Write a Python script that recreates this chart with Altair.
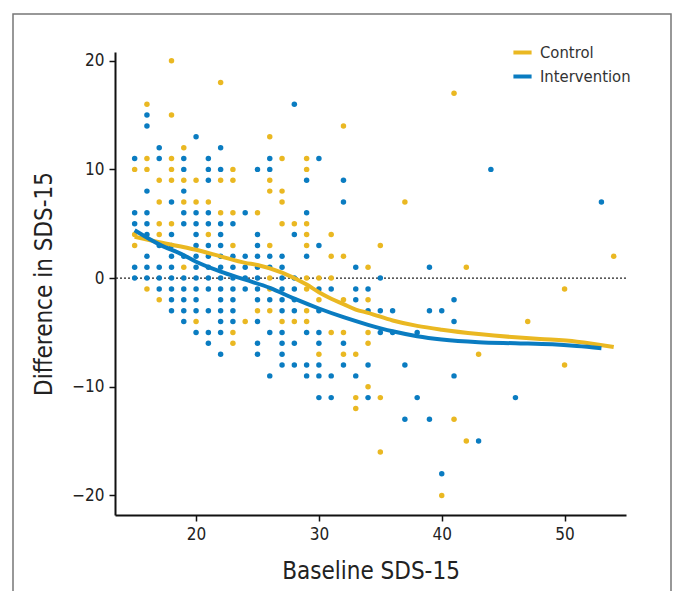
import altair as alt
import pandas as pd

groups = ["Control", "Intervention"]
colors = ["#EAB822", "#0A7CC1"]

# Control (yellow) points: baseline x, difference y
control_x = [18, 22, 16, 18, 41, 32, 26, 19, 16, 18, 27, 29, 15, 16, 18, 23, 29,
             17, 18, 19, 20, 22, 23, 26, 26, 27, 17, 19, 20, 21, 27, 37, 22, 23, 25,
             17, 18, 27, 28, 29, 15, 17, 21, 29, 31, 15, 23, 26, 29, 35, 31, 32, 54,
             19, 34, 42, 26, 29, 30, 31, 16, 26, 29, 50, 17, 30, 32, 34, 25, 26, 29,
             20, 24, 27, 28, 29, 47, 23, 31, 32, 34, 23, 34, 30, 32, 33, 43, 50, 34,
             33, 35, 33, 41, 42, 35, 40]
control_y = [20, 18, 16, 15, 17, 14, 13, 12, 11, 11, 11, 11, 10, 10, 10, 10, 10,
             9, 9, 9, 9, 9, 9, 9, 8, 8, 7, 7, 7, 7, 7, 7, 6, 6, 6,
             5, 5, 5, 5, 5, 4, 4, 4, 4, 4, 3, 3, 3, 3, 3, 2, 2, 2,
             1, 1, 1, 0, 0, 0, 0, -1, -1, -1, -1, -2, -2, -2, -2, -3, -3, -3,
             -4, -4, -4, -4, -4, -4, -5, -5, -5, -5, -6, -6, -7, -7, -7, -7, -8, -10,
             -11, -11, -12, -13, -15, -16, -20]

# Intervention (blue) points
interv_x = [16, 16, 28, 20, 17, 22, 15, 17, 19, 21, 26, 30, 19, 21, 22, 25, 26, 44,
            21, 29, 32, 16, 19, 18, 32, 53, 15, 16, 19, 20, 21, 24, 29,
            15, 16, 19, 20, 21, 22, 23, 16, 18, 20, 22, 25, 28,
            17, 18, 20, 21, 22, 25, 30,
            16, 18, 19, 20, 21, 22, 23, 24, 25, 26, 27, 29,
            15, 16, 17, 18, 20, 21, 22, 23, 24, 25, 26, 27, 33, 39,
            15, 16, 17, 18, 19, 20, 21, 22, 23, 24, 25, 27, 28, 35,
            17, 18, 19, 20, 21, 22, 23, 24, 25, 27, 28, 30, 31, 33, 34,
            18, 19, 20, 22, 23, 25, 26, 27, 28, 33, 41,
            18, 19, 20, 21, 22, 23, 27, 28, 30, 34, 35, 36, 39, 40,
            19, 22, 23, 25, 41,
            20, 21, 22, 26, 27, 29, 30, 35, 36, 38,
            21, 25, 27, 28, 30, 32,
            22, 25, 27,
            27, 28, 29, 30, 32, 34, 37,
            26, 29, 30, 31, 33, 41,
            30, 31, 34, 38, 46,
            37, 39, 43, 40]
interv_y = [15, 14, 16, 13, 12, 12, 11, 11, 11, 11, 11, 11, 10, 10, 10, 10, 10, 10,
            9, 9, 9, 8, 8, 7, 7, 7, 6, 6, 6, 6, 6, 6, 6,
            5, 5, 5, 5, 5, 5, 5, 4, 4, 4, 4, 4, 4,
            3, 3, 3, 3, 3, 3, 3,
            2, 2, 2, 2, 2, 2, 2, 2, 2, 2, 2, 2,
            1, 1, 1, 1, 1, 1, 1, 1, 1, 1, 1, 1, 1, 1,
            0, 0, 0, 0, 0, 0, 0, 0, 0, 0, 0, 0, 0, 0,
            -1, -1, -1, -1, -1, -1, -1, -1, -1, -1, -1, -1, -1, -1, -1,
            -2, -2, -2, -2, -2, -2, -2, -2, -2, -2, -2,
            -3, -3, -3, -3, -3, -3, -3, -3, -3, -3, -3, -3, -3, -3,
            -4, -4, -4, -4, -4,
            -5, -5, -5, -5, -5, -5, -5, -5, -5, -5,
            -6, -6, -6, -6, -6, -6,
            -7, -7, -7,
            -8, -8, -8, -8, -8, -8, -8,
            -9, -9, -9, -9, -9, -9,
            -11, -11, -11, -11, -11,
            -13, -13, -15, -18]

# Smoothed curves
control_curve_x = [15, 17, 20, 22, 24, 25, 27, 29, 30, 31, 32, 33, 34, 36, 38, 40, 43, 46, 48, 51, 54]
control_curve_y = [3.8, 3.3, 2.6, 2.0, 1.4, 1.2, 0.5, -0.6, -1.3, -1.9, -2.4, -2.9, -3.2, -3.9,
                   -4.4, -4.75, -5.15, -5.45, -5.6, -5.85, -6.35]
interv_curve_x = [15, 17, 19, 20, 22, 24, 26, 28, 30, 32, 34, 36, 38, 40, 43, 46, 49, 51, 53]
interv_curve_y = [4.4, 3.1, 2.1, 1.5, 0.6, -0.15, -0.9, -1.9, -2.8, -3.6, -4.3, -4.9, -5.35,
                  -5.65, -5.9, -6.0, -6.1, -6.25, -6.45]

pts = pd.concat([
    pd.DataFrame({"x": control_x, "y": control_y, "group": "Control", "o": 0}),
    pd.DataFrame({"x": interv_x, "y": interv_y, "group": "Intervention", "o": 1}),
])
curves = pd.concat([
    pd.DataFrame({"x": control_curve_x, "y": control_curve_y, "group": "Control", "o": 0}),
    pd.DataFrame({"x": interv_curve_x, "y": interv_curve_y, "group": "Intervention", "o": 1}),
])

FONT = "DejaVu Sans Condensed, Roboto, sans-serif"

xscale = alt.Scale(domain=[13.4, 55], nice=False, zero=False)
yscale = alt.Scale(domain=[-21.8, 20.8], nice=False, zero=False)
cscale = alt.Scale(domain=groups, range=colors)

legend = alt.Legend(
    title=None, orient="none", legendX=396, legendY=-11, symbolType="stroke",
    symbolStrokeWidth=4, symbolSize=330, labelFontSize=16.5, labelFont=FONT,
    labelColor="#333", rowPadding=4, labelOffset=6)

xenc = alt.X("x:Q", scale=xscale,
             axis=alt.Axis(title="Baseline SDS-15", values=[20, 30, 40, 50], titlePadding=17))
yenc = alt.Y("y:Q", scale=yscale,
             axis=alt.Axis(title="Difference in SDS-15", values=[-20, -10, 0, 10, 20], titlePadding=15))

points = alt.Chart(pts).mark_circle(size=30, opacity=1).encode(
    x=xenc, y=yenc,
    color=alt.Color("group:N", scale=cscale, legend=legend),
    order=alt.Order("o:Q"),
)

zero = alt.Chart(pd.DataFrame({"z": [0]})).mark_rule(
    color="#222", strokeDash=[2, 2], strokeWidth=1.3
).encode(y=alt.Y("z:Q", scale=yscale))

line_c = alt.Chart(curves[curves.group == "Control"]).mark_line(strokeWidth=4, interpolate="monotone").encode(
    x=alt.X("x:Q", scale=xscale), y=alt.Y("y:Q", scale=yscale),
    color=alt.Color("group:N", scale=cscale, legend=legend),
)
line_i = alt.Chart(curves[curves.group == "Intervention"]).mark_line(strokeWidth=4, interpolate="monotone").encode(
    x=alt.X("x:Q", scale=xscale), y=alt.Y("y:Q", scale=yscale),
    color=alt.Color("group:N", scale=cscale, legend=legend),
)

frame = alt.Chart(pd.DataFrame({"a": [0]})).mark_rect(
    fill=None, stroke="#777", strokeWidth=1.5, clip=False
).encode(x=alt.value(-102), x2=alt.value(556), y=alt.value(-38), y2=alt.value(620))

chart = alt.layer(frame, zero, points, line_c, line_i).properties(
    width=511, height=463,
    autosize=alt.AutoSizeParams(type="none"),
    padding={"left": 107, "top": 44, "right": 47, "bottom": 76},
).configure_view(stroke=None).configure_axis(
    grid=False, domainColor="#111", domainWidth=2, tickColor="#111", tickWidth=1.5,
    tickSize=6, labelFontSize=17, labelFont=FONT, labelColor="#222",
    titleFontSize=24, titleFont=FONT, titleFontWeight="normal", titleColor="#222",
    labelPadding=5,
)

chart.save("out.html", embed_options={"renderer": "svg", "actions": False})
